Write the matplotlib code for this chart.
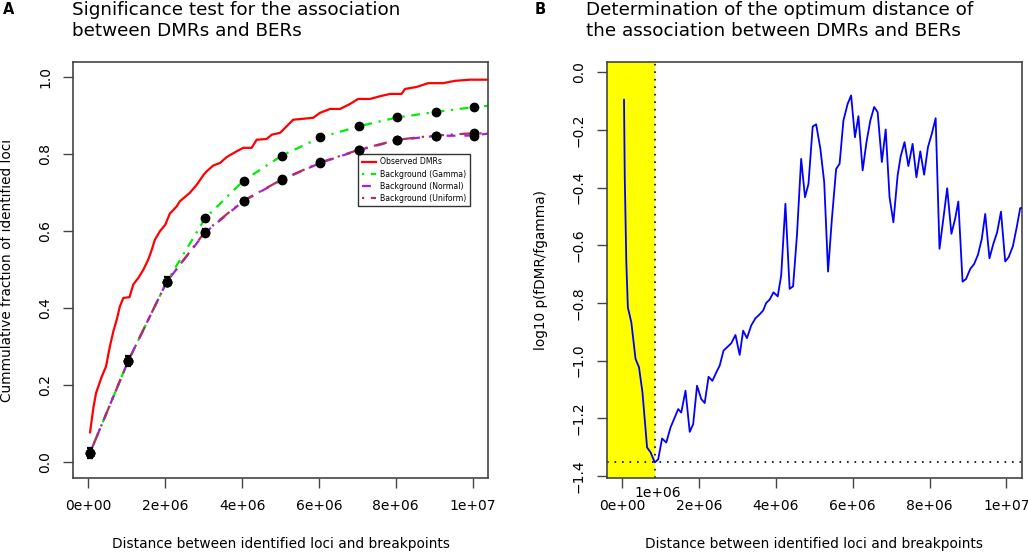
import numpy as np
import matplotlib
matplotlib.use('Agg')
from matplotlib import pyplot as plt

# panel A - observed DMRs (cumulative fraction)
obs_x = [0.044, 0.13, 0.2, 0.35, 0.46, 0.56, 0.65, 0.74, 0.82, 0.91, 1.07, 1.17, 1.3, 1.43, 1.56,
         1.65, 1.73, 1.86, 2.0, 2.12, 2.3, 2.38, 2.64, 2.82, 3.0, 3.08, 3.25, 3.43, 3.6, 3.86,
         4.03, 4.25, 4.38, 4.64, 4.77, 4.99, 5.33, 5.85, 6.03, 6.29, 6.55, 6.81, 7.02, 7.33,
         7.59, 7.85, 8.15, 8.24, 8.54, 8.84, 9.23, 9.54, 9.93, 10.4]
obs_y = [0.078, 0.141, 0.18, 0.223, 0.249, 0.301, 0.34, 0.371, 0.405, 0.427, 0.429, 0.462, 0.479,
         0.5, 0.527, 0.552, 0.578, 0.6, 0.617, 0.646, 0.665, 0.678, 0.7, 0.721, 0.747, 0.756,
         0.771, 0.778, 0.793, 0.808, 0.817, 0.817, 0.838, 0.84, 0.851, 0.856, 0.89, 0.895,
         0.908, 0.918, 0.918, 0.931, 0.944, 0.944, 0.951, 0.957, 0.957, 0.970, 0.975, 0.985,
         0.985, 0.991, 0.994, 0.994]

# background simulations, points every 1e6
bg_x = [0.04, 1.04, 2.04, 3.04, 4.04, 5.04, 6.04, 7.04, 8.04, 9.04, 10.04]
gamma_y = [0.024, 0.264, 0.469, 0.634, 0.732, 0.797, 0.844, 0.873, 0.896, 0.910, 0.923]
normal_y = [0.024, 0.264, 0.469, 0.597, 0.679, 0.734, 0.778, 0.811, 0.837, 0.848, 0.849]
uniform_y = [0.024, 0.264, 0.469, 0.599, 0.680, 0.735, 0.779, 0.812, 0.838, 0.849, 0.855]
bg_err = [0.012, 0.013, 0.012, 0.007, 0.005, 0.004, 0.004, 0.004, 0.003, 0.003, 0.003]
line_end_x = 10.4
gamma_end = 0.926
normal_end = 0.854

# panel B - log10 p(fDMR/fgamma) vs distance
dist_x = [0.05, 0.07, 0.11, 0.15, 0.24, 0.35, 0.44, 0.53, 0.65, 0.74, 0.85, 0.94, 1.04, 1.15, 1.26,
          1.46, 1.54, 1.65, 1.76, 1.85, 1.95, 2.06, 2.15, 2.25, 2.35, 2.45, 2.54, 2.64, 2.76,
          2.84, 2.95, 3.06, 3.15, 3.25, 3.36, 3.47, 3.56, 3.67, 3.75, 3.84, 3.94, 4.05, 4.14,
          4.25, 4.36, 4.45, 4.55, 4.66, 4.76, 4.85, 4.96, 5.05, 5.16, 5.26, 5.36, 5.46, 5.57,
          5.66, 5.76, 5.87, 5.96, 6.06, 6.15, 6.26, 6.36, 6.46, 6.56, 6.65, 6.76, 6.86, 6.96,
          7.06, 7.17, 7.25, 7.35, 7.45, 7.56, 7.66, 7.76, 7.86, 7.96, 8.06, 8.16, 8.26, 8.36,
          8.46, 8.57, 8.67, 8.75, 8.86, 8.95, 9.06, 9.16, 9.26, 9.36, 9.45, 9.56, 9.66, 9.76,
          9.86, 9.97, 10.06, 10.17, 10.27, 10.36, 10.42]
logp = [-0.095, -0.369, -0.659, -0.815, -0.867, -0.994, -1.023, -1.11, -1.301, -1.318, -1.353,
        -1.342, -1.27, -1.284, -1.232, -1.168, -1.18, -1.104, -1.247, -1.22, -1.087, -1.133,
        -1.147, -1.056, -1.07, -1.041, -1.017, -0.965, -0.95, -0.94, -0.911, -0.98, -0.896,
        -0.922, -0.878, -0.853, -0.842, -0.826, -0.8, -0.788, -0.763, -0.777, -0.705, -0.456,
        -0.751, -0.742, -0.566, -0.3, -0.433, -0.387, -0.188, -0.18, -0.265, -0.381, -0.691,
        -0.508, -0.335, -0.317, -0.167, -0.109, -0.08, -0.225, -0.152, -0.34, -0.242, -0.167,
        -0.12, -0.138, -0.311, -0.198, -0.433, -0.52, -0.358, -0.291, -0.242, -0.325, -0.248,
        -0.364, -0.274, -0.355, -0.259, -0.213, -0.159, -0.612, -0.508, -0.402, -0.56, -0.506,
        -0.448, -0.726, -0.717, -0.682, -0.665, -0.633, -0.578, -0.491, -0.645, -0.595, -0.555,
        -0.483, -0.656, -0.641, -0.603, -0.537, -0.471, -0.47]

xticks = [0, 2e6, 4e6, 6e6, 8e6, 1e7]
xticklabels = ['0e+00', '2e+06', '4e+06', '6e+06', '8e+06', '1e+07']

def mb(v):
    return np.array(v) * 1e6

box_col = '#444444'
fig = plt.figure(figsize=(10.28, 5.52), dpi=100)

def style_axes(ax):
    for s in ax.spines.values():
        s.set_color(box_col)
        s.set_linewidth(1.2)
    ax.set_xlim(-0.4e6, 10.4e6)
    ax.set_xticks(xticks)
    ax.set_xticklabels(xticklabels)
    ax.tick_params(axis='x', length=7, width=1, color=box_col, labelsize=10, pad=8)
    ax.tick_params(axis='y', length=7, width=1, color=box_col, labelsize=10, pad=8,
                   labelrotation=90)

# ---- panel A
ax1 = fig.add_axes([0.0710, 0.1346, 0.4037, 0.7531])
ax1.plot(mb(obs_x), obs_y, color='red', lw=1.6, label='Observed DMRs')
ax1.plot(mb(bg_x + [line_end_x]), gamma_y + [gamma_end], color='#00ee00', lw=1.6,
         linestyle=(0, (1, 3, 4, 3)), label='Background (Gamma)')
ax1.plot(mb(bg_x + [line_end_x]), normal_y + [normal_end], color='#a020f0', lw=1.6,
         linestyle=(0, (4, 4)), label='Background (Normal)')
ax1.plot(mb(bg_x + [line_end_x]), uniform_y + [normal_end], color='#b03060', lw=1.6,
         linestyle=(0, (1, 3, 6, 3)), label='Background (Uniform)')
for yy in [gamma_y, normal_y, uniform_y]:
    ax1.errorbar(mb(bg_x), yy, yerr=bg_err, fmt='o', color='black', ms=6, capsize=2.5,
                 elinewidth=1.5, capthick=1.5, zorder=5)
style_axes(ax1)
ax1.set_ylim(-0.04, 1.04)
ax1.set_yticks([0.0, 0.2, 0.4, 0.6, 0.8, 1.0])
ax1.set_yticklabels(['0.0', '0.2', '0.4', '0.6', '0.8', '1.0'])
for lab in ax1.get_yticklabels():
    lab.set_va('center')
leg = ax1.legend(loc='upper left', bbox_to_anchor=(7.02e6, 0.801), bbox_transform=ax1.transData,
                 fontsize=5.6, fancybox=False, edgecolor='#333333', framealpha=1,
                 borderpad=0.45, labelspacing=0.4, handlelength=1.9, handletextpad=0.5,
                 borderaxespad=0)
leg.get_frame().set_linewidth(1.0)

# ---- panel B
ax2 = fig.add_axes([0.5902, 0.1346, 0.4037, 0.7531])
opt_i = int(np.argmin(logp))
opt_x = dist_x[opt_i] * 1e6
ax2.axvspan(-0.4e6, opt_x, color='#ffff00', lw=0, zorder=0)
ax2.plot(mb(dist_x), logp, color='blue', lw=1.3, zorder=3)
ax2.axvline(opt_x, color='black', lw=1.2, linestyle=(0, (1, 3.5)), zorder=2)
ax2.axhline(logp[opt_i], color='black', lw=1.2, linestyle=(0, (1, 3.5)), zorder=2)
style_axes(ax2)
ax2.set_ylim(-1.406, 0.036)
ax2.set_yticks([0.0, -0.2, -0.4, -0.6, -0.8, -1.0, -1.2, -1.4])
ax2.set_yticklabels(['0.0', '\u22120.2', '\u22120.4', '\u22120.6', '\u22120.8', '\u22121.0',
                     '\u22121.2', '\u22121.4'])
for lab in ax2.get_yticklabels():
    lab.set_va('center')
ax2.text(0.94e6, -0.036, '1e+06', transform=ax2.get_xaxis_transform(), ha='center',
         va='center', fontsize=10)

# titles and labels
fig.text(9 / 1028, 1 - 9 / 552, 'A', fontsize=10.5, fontweight='bold', ha='center', va='center')
fig.text(540 / 1028, 1 - 9 / 552, 'B', fontsize=10.5, fontweight='bold', ha='center', va='center')
fig.text(72 / 1028, 1 - 1 / 552, 'Significance test for the association\nbetween DMRs and BERs',
         fontsize=13.2, ha='left', va='top', linespacing=1.2)
fig.text(586 / 1028, 1 - 1 / 552,
         'Determination of the optimum distance of\nthe association between DMRs and BERs',
         fontsize=13.2, ha='left', va='top', linespacing=1.2)
fig.text(280.5 / 1028, 1 - 544 / 552, 'Distance between identified loci and breakpoints',
         fontsize=9.9, ha='center', va='center')
fig.text(814 / 1028, 1 - 544 / 552, 'Distance between identified loci and breakpoints',
         fontsize=9.9, ha='center', va='center')
fig.text(7 / 1028, 1 - 270 / 552, 'Cummulative fraction of identified loci', fontsize=9.8,
         rotation=90, ha='center', va='center')
fig.text(541 / 1028, 1 - 270 / 552, 'log10 p(fDMR/fgamma)', fontsize=9.8,
         rotation=90, ha='center', va='center')

fig.savefig('out.png', dpi=100)
